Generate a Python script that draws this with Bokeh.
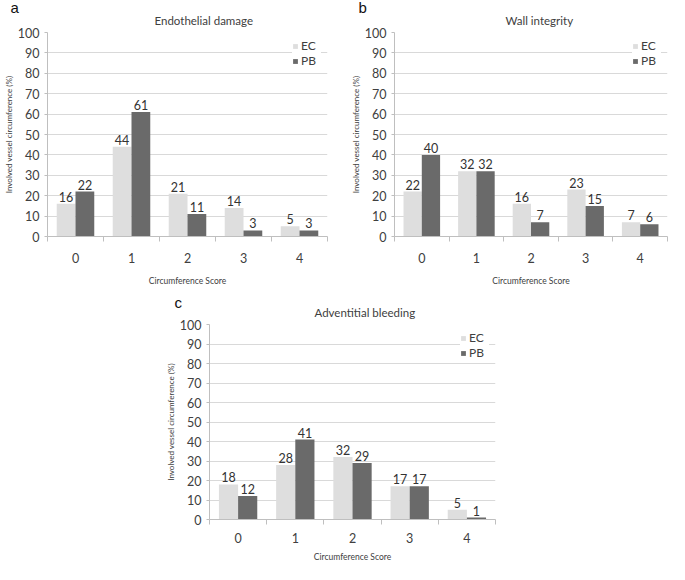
from bokeh.plotting import figure
from bokeh.layouts import column, row, Spacer
from bokeh.models import (ColumnDataSource, FixedTicker, Legend, LegendItem,
                          Title, Range1d)
from bokeh.transform import dodge
from bokeh.core.properties import value
from bokeh.embed import file_html
from bokeh.resources import INLINE

# ---- data ----
scores = [0, 1, 2, 3, 4]
score_labels = {0: "0", 1: "1", 2: "2", 3: "3", 4: "4"}
ec_endo = [16, 44, 21, 14, 5]
pb_endo = [22, 61, 11, 3, 3]
ec_wall = [22, 32, 16, 23, 7]
pb_wall = [40, 32, 7, 15, 6]
ec_adv = [18, 28, 32, 17, 5]
pb_adv = [12, 41, 29, 17, 1]
y_ticks = [0, 10, 20, 30, 40, 50, 60, 70, 80, 90, 100]
boundaries = [-0.5, 0.5, 1.5, 2.5, 3.5, 4.5]
series_names = ["EC", "PB"]
x_title = "Circumference Score"
y_title = "Involved vessel circumference (%)"

FONT = "Lato"
EC_COLOR = "#dedede"
PB_COLOR = "#6a6a6a"
TXT = "#404040"
AXIS = "#bfbfbf"
GRID = "#d9d9d9"
BAR_W = 0.335
OFF = 0.1675


def make_panel(letter, title, ec, pb, width, height, bl, br, bt, bb,
               title_off, title_standoff, letter_off, letter_standoff,
               xlab_standoff, xtitle_standoff):
    p = figure(width=width, height=height,
               x_range=Range1d(-0.5, 4.5), y_range=Range1d(0, 100),
               output_backend="svg", toolbar_location=None,
               min_border_left=bl, min_border_right=br,
               min_border_top=bt, min_border_bottom=bb)
    p.outline_line_color = None
    p.background_fill_color = "white"
    p.border_fill_color = "white"

    # tiny blank top slot so the panel letter is not cut at the canvas edge
    p.title.text = "\u00a0"
    p.title.text_font_size = "3px"
    p.title.standoff = 0

    # chart title (next to the frame)
    p.add_layout(Title(text=title, align="left", offset=title_off,
                       standoff=title_standoff,
                       text_font=FONT, text_font_size="11.5px",
                       text_font_style="normal", text_color=TXT),
                 "above")
    # panel letter
    p.add_layout(Title(text=letter, align="left", offset=letter_off,
                       standoff=letter_standoff,
                       text_font="Liberation Sans", text_font_size="15px",
                       text_font_style="normal", text_color="#111111"),
                 "above")

    src = ColumnDataSource(dict(
        x=scores, ec=ec, pb=pb,
        ec_lbl=[str(v) for v in ec], pb_lbl=[str(v) for v in pb]))

    r_ec = p.vbar(x=dodge("x", -OFF, range=p.x_range), top="ec", width=BAR_W,
                  source=src, fill_color=EC_COLOR, line_color=None)
    r_pb = p.vbar(x=dodge("x", OFF, range=p.x_range), top="pb", width=BAR_W,
                  source=src, fill_color=PB_COLOR, line_color=None)

    for col, off in (("ec", -OFF), ("pb", OFF)):
        p.text(x=dodge("x", off, range=p.x_range), y=col, text=col + "_lbl",
               source=src, text_align="center", text_baseline="bottom",
               y_offset=-2, text_font=value(FONT), text_font_size="12.5px",
               text_color="#333333")

    # x axis
    xa = p.xaxis[0]
    xa.ticker = FixedTicker(ticks=scores, minor_ticks=boundaries)
    xa.major_label_overrides = score_labels
    xa.major_tick_out = 0
    xa.major_tick_in = 0
    xa.minor_tick_out = 5
    xa.minor_tick_in = 0
    xa.minor_tick_line_color = AXIS
    xa.axis_line_color = AXIS
    xa.major_label_standoff = xlab_standoff
    xa.major_label_text_font = FONT
    xa.major_label_text_font_size = "12.5px"
    xa.major_label_text_color = TXT
    xa.axis_label = x_title
    xa.axis_label_text_font = FONT
    xa.axis_label_text_font_size = "8.5px"
    xa.axis_label_text_font_style = "normal"
    xa.axis_label_text_color = TXT
    xa.axis_label_standoff = xtitle_standoff

    # y axis
    ya = p.yaxis[0]
    ya.ticker = FixedTicker(ticks=y_ticks)
    ya.major_tick_out = 3
    ya.major_tick_in = 0
    ya.minor_tick_out = 0
    ya.minor_tick_in = 0
    ya.major_tick_line_color = AXIS
    ya.axis_line_color = AXIS
    ya.major_label_standoff = 5
    ya.major_label_text_font = FONT
    ya.major_label_text_font_size = "12.5px"
    ya.major_label_text_color = TXT
    ya.axis_label = y_title
    ya.axis_label_text_font = FONT
    ya.axis_label_text_font_size = "8px"
    ya.axis_label_text_font_style = "normal"
    ya.axis_label_text_color = TXT
    ya.axis_label_standoff = 1

    p.xgrid.grid_line_color = None
    p.ygrid.grid_line_color = GRID
    p.ygrid.ticker = FixedTicker(ticks=y_ticks)

    legend = Legend(items=[LegendItem(label=series_names[0], renderers=[r_ec]),
                           LegendItem(label=series_names[1], renderers=[r_pb])],
                    location="top_right")
    legend.label_text_font = FONT
    legend.label_text_font_size = "12px"
    legend.label_text_color = TXT
    legend.glyph_width = 6
    legend.glyph_height = 6
    legend.label_height = 13
    legend.label_standoff = 3
    legend.spacing = 0
    legend.padding = 2
    legend.margin = 6
    legend.border_line_color = None
    legend.background_fill_color = "white"
    legend.background_fill_alpha = 1.0
    p.add_layout(legend)
    return p


pa = make_panel("a", "Endothelial damage", ec_endo, pb_endo,
                330, 288, 35, 3, 28, 50, 107, 12, -37, -21, 11, 10)
pb_ = make_panel("b", "Wall integrity", ec_wall, pb_wall,
                 339, 288, 64, 2, 28, 50, 111, 12, -36, -21, 11, 10)
pc = make_panel("c", "Adventitial bleeding", ec_adv, pb_adv,
                345, 276, 52, 7, 36, 44, 105, 12, -35, -26, 8, 6)

layout = column(row(pa, pb_), row(Spacer(width=157, height=276), pc))

open("out.html", "w").write(file_html(layout, INLINE))
